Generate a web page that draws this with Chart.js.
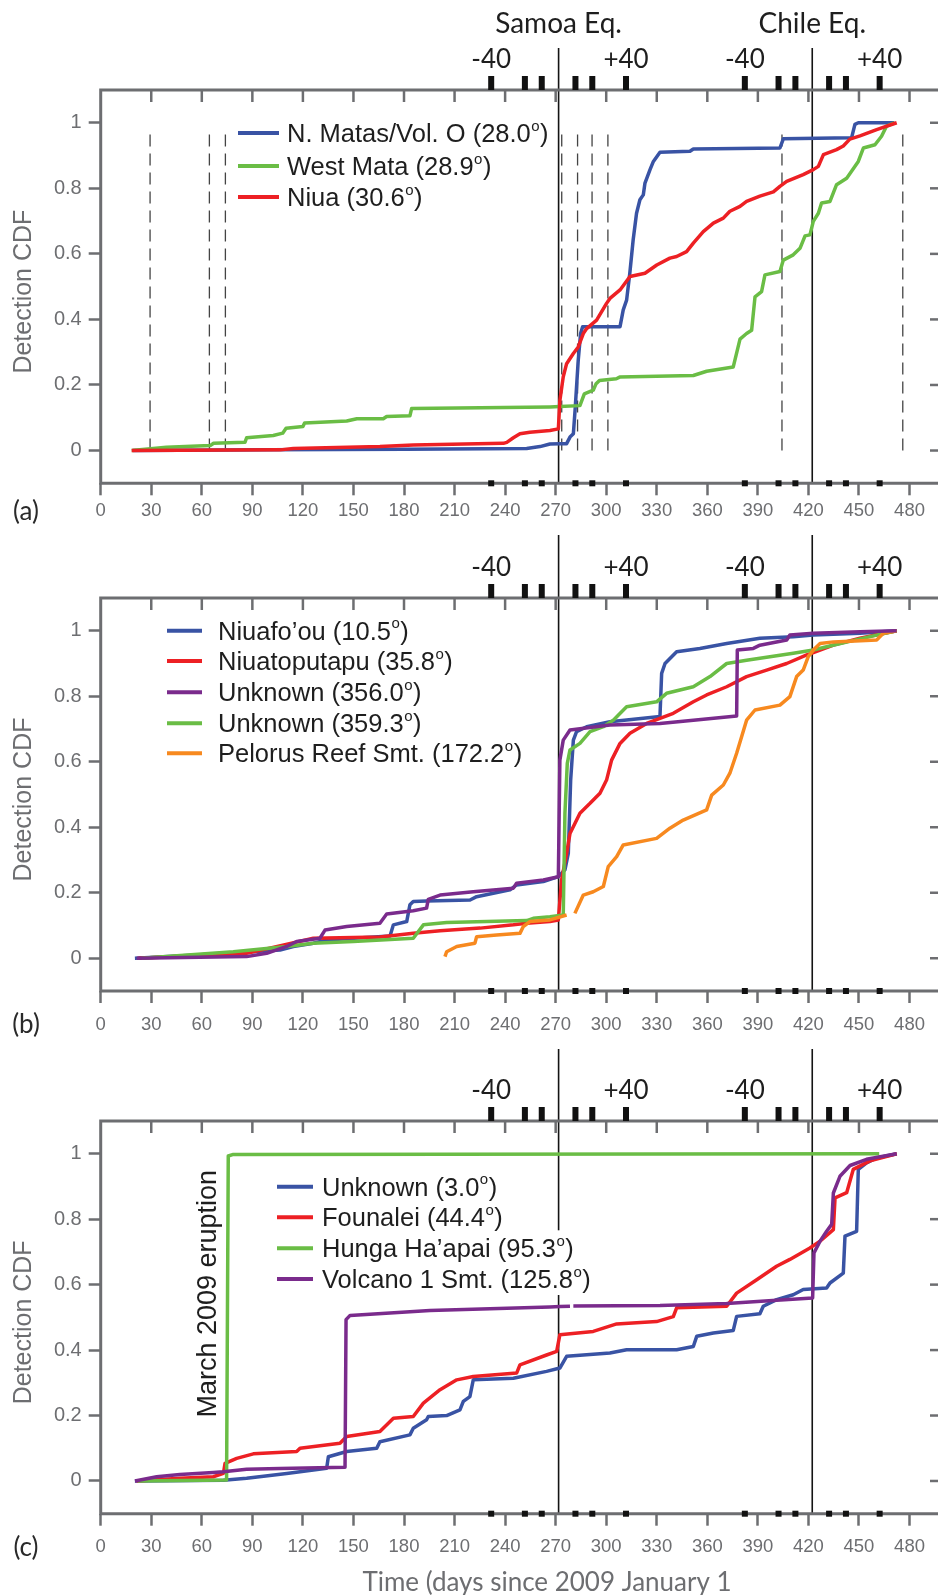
<!DOCTYPE html>
<html>
<head>
<meta charset="utf-8">
<title>Detection CDF by source, 2009–2010</title>
<script src="https://cdn.jsdelivr.net/npm/chart.js"></script>
<style>
  html, body { margin: 0; padding: 0; background: #ffffff; }
  body { width: 938px; height: 1595px; position: relative; overflow: hidden; }
  canvas { position: absolute; left: 0; }
</style>
</head>
<body>
<canvas id="panelA" width="938" height="530" style="top:0px"></canvas>
<canvas id="panelB" width="938" height="520" style="top:530px"></canvas>
<canvas id="panelC" width="938" height="555" style="top:1040px"></canvas>
<script>
// ---- axes ----
const xTickValues = [0, 30, 60, 90, 120, 150, 180, 210, 240, 270, 300, 330, 360, 390, 420, 450, 480];
const yTickValues = [0, 0.2, 0.4, 0.6, 0.8, 1];
const yTickLabels = ['0', '0.2', '0.4', '0.6', '0.8', '1'];

// ---- earthquakes (days since 2009 Jan 1) and window marks around them ----
const quakeNames = ['Samoa Eq.', 'Chile Eq.'];
const quakeDays = [271.74, 422.27];
const windowOffsets = [-40, -20, -10, 10, 20, 40];
const windowLabelOffsets = [-40, 40];
const windowLabels = ['-40', '+40'];

// ---- reference days marked with dashed lines in panel (a) ----
const dashDaysA = [29.3, 64.5, 74, 273.6, 283, 291.6, 301, 404.3, 476];

// ---- panel (a) ----
const aBlueDays = [19.3, 100, 180, 252.8, 260.7, 266.6, 272.5, 276.5, 278.5, 280.5, 281.5, 283.4, 284.8, 286, 308.2, 310.1, 312.1, 314, 316, 318, 320, 322, 323, 326, 328, 331.9, 349.7, 351.7, 403.1, 405.1, 445.6, 447.6, 449.6, 471];
const aBlueCdf = [0, 0.002, 0.004, 0.006, 0.012, 0.02, 0.021, 0.021, 0.041, 0.051, 0.122, 0.276, 0.357, 0.378, 0.378, 0.429, 0.459, 0.541, 0.643, 0.724, 0.765, 0.78, 0.816, 0.857, 0.882, 0.91, 0.913, 0.92, 0.923, 0.951, 0.954, 0.995, 1.0, 1.0];

const aGreenDays = [18.4, 39, 65, 67, 85.6, 86.6, 102.4, 108, 110, 120, 121, 146, 152, 167.7, 169.7, 183.5, 184.5, 266.6, 272.5, 284.4, 287, 292.3, 294, 296, 306, 308, 351.7, 359.6, 375.4, 379.4, 383.3, 386.3, 388.3, 392.2, 394.2, 403.1, 405.1, 411, 415, 418, 420.9, 422.9, 425.9, 427.8, 432.8, 436.7, 442.7, 445.6, 449.6, 452.6, 459.5, 463.4, 466.4, 471];
const aGreenCdf = [0, 0.01, 0.015, 0.022, 0.025, 0.039, 0.046, 0.053, 0.068, 0.073, 0.084, 0.09, 0.097, 0.097, 0.104, 0.106, 0.128, 0.133, 0.134, 0.137, 0.173, 0.184, 0.204, 0.214, 0.219, 0.224, 0.229, 0.242, 0.255, 0.34, 0.357, 0.367, 0.469, 0.485, 0.536, 0.546, 0.581, 0.597, 0.617, 0.655, 0.658, 0.699, 0.724, 0.755, 0.76, 0.811, 0.831, 0.852, 0.882, 0.923, 0.933, 0.959, 0.99, 1.0];

const aRedDays = [18.4, 106.4, 114.3, 165.7, 185.5, 239, 241, 244.9, 248.8, 254.7, 266.6, 271.6, 272.5, 274.5, 276.5, 280.5, 283.4, 286.4, 288.4, 294.3, 300.2, 302.2, 308.2, 314.1, 323, 330, 337.8, 341.8, 347.7, 351.7, 357.6, 363.6, 369.5, 373.4, 379.4, 383.3, 391.2, 399.2, 403.1, 407.1, 416.9, 422.9, 425.9, 428.9, 436.7, 440.7, 444.6, 450.6, 460.5, 472.4];
const aRedCdf = [0, 0.002, 0.006, 0.012, 0.017, 0.022, 0.025, 0.039, 0.051, 0.056, 0.061, 0.066, 0.153, 0.225, 0.265, 0.296, 0.316, 0.357, 0.372, 0.398, 0.449, 0.464, 0.49, 0.531, 0.541, 0.566, 0.587, 0.592, 0.607, 0.633, 0.668, 0.694, 0.709, 0.73, 0.745, 0.76, 0.776, 0.789, 0.806, 0.821, 0.842, 0.857, 0.867, 0.903, 0.918, 0.929, 0.95, 0.96, 0.979, 1.0];

const aNames = ['N. Matas/Vol. O', 'West Mata', 'Niua'];
const aAngles = ['28.0', '28.9', '30.6'];

// ---- panel (b) ----
const bBlueDays = [20.3, 57, 106.4, 114.3, 126.2, 134.1, 171.7, 173.7, 181.6, 183.5, 185.5, 193.4, 219.2, 223.1, 242.9, 246.8, 262.7, 271.6, 275.5, 277.5, 278.9, 280.5, 282.4, 288.4, 302.2, 331.9, 332.9, 334.9, 341.8, 355.6, 371.5, 391.2, 411, 422.9, 450.6, 472.4];
const bBlueCdf = [0, 0.01, 0.025, 0.036, 0.046, 0.056, 0.068, 0.102, 0.112, 0.163, 0.173, 0.175, 0.178, 0.188, 0.209, 0.224, 0.234, 0.249, 0.27, 0.32, 0.544, 0.666, 0.692, 0.707, 0.722, 0.738, 0.87, 0.9, 0.936, 0.946, 0.961, 0.977, 0.982, 0.987, 0.992, 1.0];

const bRedDays = [22.3, 86.6, 126.2, 165.7, 185.5, 201.4, 225.2, 244.9, 252.8, 266.6, 271.6, 273.5, 276.5, 278.5, 284.4, 290.4, 296.3, 300.2, 303.2, 308.2, 314.1, 324, 339.8, 351.7, 359.6, 371.5, 383.3, 395.2, 407.1, 419, 426.9, 434.8, 450.6, 472.4];
const bRedCdf = [0, 0.015, 0.061, 0.065, 0.076, 0.084, 0.092, 0.102, 0.107, 0.112, 0.117, 0.239, 0.32, 0.381, 0.443, 0.473, 0.504, 0.544, 0.605, 0.656, 0.687, 0.717, 0.748, 0.783, 0.804, 0.829, 0.86, 0.88, 0.9, 0.926, 0.941, 0.956, 0.977, 1.0];

const bPurpleDays = [21.3, 86.6, 98.5, 110.4, 116.3, 130.1, 133.1, 146, 165.7, 169.7, 185.5, 193.4, 194.4, 201.4, 221.1, 244.9, 246.8, 262.7, 271.6, 272.5, 274.5, 278.5, 302.2, 331.9, 351.7, 377.4, 377.8, 387.3, 391.2, 407.1, 409, 422.9, 450.6, 472.4];
const bPurpleCdf = [0, 0.005, 0.015, 0.036, 0.051, 0.061, 0.086, 0.097, 0.107, 0.135, 0.145, 0.153, 0.18, 0.193, 0.203, 0.214, 0.229, 0.239, 0.249, 0.605, 0.666, 0.697, 0.712, 0.717, 0.727, 0.74, 0.941, 0.946, 0.956, 0.972, 0.987, 0.992, 0.997, 1.0];

const bGreenDays = [24.3, 78.7, 110.4, 126.2, 149.9, 185.5, 191.5, 205.3, 252.8, 256.7, 266.6, 274.5, 275.5, 276.9, 278.5, 284.4, 290.4, 298.3, 304.2, 312.1, 329.9, 335.8, 351.7, 361.6, 371.5, 383.3, 411, 422.9, 430.8, 456.5, 472.4];
const bGreenCdf = [0, 0.02, 0.036, 0.046, 0.051, 0.061, 0.102, 0.109, 0.115, 0.122, 0.127, 0.132, 0.443, 0.595, 0.636, 0.656, 0.692, 0.707, 0.727, 0.768, 0.783, 0.809, 0.829, 0.86, 0.9, 0.91, 0.931, 0.941, 0.951, 0.982, 1.0];

// the null leaves the short break in the record just after the Samoa event
const bOrangeDays = [204.3, 205.3, 211.3, 222.1, 223.1, 235, 248.8, 250.8, 254.7, 266.6, 276.5, 279, 281.4, 286.4, 292.3, 298.3, 301.2, 306.2, 310.1, 329.9, 337.8, 345.7, 359.6, 362.6, 369.5, 373.4, 377.4, 380.4, 383.3, 388.3, 403.1, 409, 413, 416.9, 419.9, 422.9, 426.9, 434.8, 460.5, 464.4, 472.4];
const bOrangeCdf = [0.005, 0.02, 0.036, 0.046, 0.066, 0.071, 0.076, 0.097, 0.112, 0.117, 0.132, null, 0.137, 0.193, 0.203, 0.219, 0.28, 0.31, 0.346, 0.366, 0.397, 0.422, 0.453, 0.498, 0.529, 0.565, 0.626, 0.677, 0.727, 0.758, 0.773, 0.799, 0.86, 0.88, 0.921, 0.941, 0.961, 0.966, 0.972, 0.992, 1.0];

const bNames = ['Niuafo\u2019ou', 'Niuatoputapu', 'Unknown', 'Unknown', 'Pelorus Reef Smt.'];
const bAngles = ['10.5', '35.8', '356.0', '359.3', '172.2'];

// ---- panel (c) ----
const cBlueDays = [20.3, 72.8, 86.6, 110.4, 134.1, 135.1, 146, 163.8, 165.7, 183.5, 185.5, 193.4, 194.4, 205.3, 213.2, 215.2, 219.1, 221.1, 244.9, 264.6, 272.5, 276.5, 302.2, 312.1, 341.8, 351.7, 353.7, 363.6, 375.4, 377.4, 391.2, 393.2, 401.1, 411, 416.9, 430.8, 432.8, 440.7, 441.7, 448.6, 449.6, 454.5, 460.5, 472.4];
const cBlueCdf = [0, 0.002, 0.008, 0.023, 0.039, 0.074, 0.09, 0.1, 0.12, 0.141, 0.161, 0.187, 0.197, 0.2, 0.217, 0.243, 0.258, 0.309, 0.314, 0.335, 0.345, 0.381, 0.391, 0.401, 0.401, 0.411, 0.442, 0.452, 0.46, 0.503, 0.511, 0.534, 0.554, 0.569, 0.585, 0.59, 0.605, 0.635, 0.748, 0.763, 0.952, 0.972, 0.987, 1.0];

const cRedDays = [21.3, 47, 66.8, 72.8, 73.8, 80.7, 90.6, 116.3, 118.3, 142, 146, 165.7, 173.7, 185.5, 191.5, 201.4, 211.3, 221.1, 246.9, 248.8, 264.6, 270.6, 272.5, 292.3, 306.2, 329.9, 339.8, 341.8, 371.5, 377.4, 389.3, 401.1, 409, 420.9, 426.9, 434.8, 435.8, 442.7, 446.6, 456.5, 472.4];
const cRedCdf = [0, 0.008, 0.013, 0.023, 0.054, 0.069, 0.083, 0.09, 0.1, 0.115, 0.136, 0.151, 0.192, 0.197, 0.238, 0.279, 0.309, 0.319, 0.33, 0.355, 0.385, 0.396, 0.447, 0.457, 0.48, 0.487, 0.502, 0.529, 0.534, 0.574, 0.615, 0.656, 0.677, 0.712, 0.733, 0.768, 0.865, 0.881, 0.952, 0.978, 1.0];

const cGreenDays = [22, 74.7, 75.7, 78.7, 462];
const cGreenCdf = [0, 0.003, 0.993, 0.998, 1.0];

const cPurpleDays = [20.3, 33.2, 47, 66.8, 72.8, 86.6, 106.4, 145, 145.6, 148, 195.4, 266.6, 272.5, 278.5, 279.5, 280.5, 331.9, 371.5, 401.1, 422.5, 423.3, 426.9, 430.8, 433.8, 434.8, 438.7, 444.7, 454.5, 472.4];
const cPurpleCdf = [0, 0.013, 0.02, 0.026, 0.028, 0.036, 0.038, 0.042, 0.493, 0.506, 0.521, 0.532, 0.533, 0.534, null, 0.535, 0.536, 0.542, 0.552, 0.559, 0.697, 0.733, 0.763, 0.784, 0.88, 0.931, 0.964, 0.983, 1.0];

const cNames = ['Unknown', 'Founalei', 'Hunga Ha\u2019apai', 'Volcano 1 Smt.'];
const cAngles = ['3.0', '44.4', '95.3', '125.8'];

// ---- styling ----
const COLORS = { blue: '#3953a4', green: '#6abd45', red: '#ed2024', purple: '#7a2b8c', orange: '#f7891f' };
const GRAY = '#6d6e71';
const INK = '#1e1e1e';
const SANS = '"Liberation Sans", Arial, sans-serif';
const HUMANIST = 'Lato, "Open Sans", sans-serif';
const X_MAX = 496.9;
const Y_AXIS_WIDTH = 100.7;

function series(days, cdf, color, order) {
  return {
    data: days.map((d, i) => ({ x: d, y: cdf[i] })),
    borderColor: color,
    backgroundColor: color,
    borderWidth: 3.5,
    pointRadius: 0,
    tension: 0,
    fill: false,
    spanGaps: false,
    borderJoinStyle: 'round',
    order: order
  };
}

// per-panel layout and annotation settings, keyed by canvas id
const panelSpecs = {
  panelA: {
    letter: '(a)', padTop: 90, xAxisHeight: 46.7, tickPad: 5, quakeRise: 42, quakeNames: true,
    dashDays: dashDaysA, dashTop: 0.975,
    legend: { names: aNames, angles: aAngles, order: [0, 1, 2], lineX: 238, lineLen: 41, textX: 287, rows: [43, 76, 107], clear: false }
  },
  panelB: {
    letter: '(b)', padTop: 68, xAxisHeight: 59, tickPad: 10.5, quakeRise: 63,
    legend: { names: bNames, angles: bAngles, order: [0, 1, 2, 3, 4], lineX: 167, lineLen: 35, textX: 218, rows: [32.7, 63, 94.3, 125.3, 155.3], clear: false }
  },
  panelC: {
    letter: '(c)', padTop: 81, xAxisHeight: 81.3, tickPad: 10.5, quakeRise: 72,
    xTitle: 'Time (days since 2009 January 1',
    note: { text: 'March 2009 eruption', day: 63.8, value: 0.572 },
    legend: { names: cNames, angles: cAngles, order: [0, 1, 2, 3], lineX: 277, lineLen: 36, textX: 322, rows: [65.7, 96.3, 127.3, 158], clear: true }
  }
};

const LEGEND_FONT = '25.5px ' + SANS;
const SUP_FONT = '15px ' + SANS;

function line(ctx, x1, y1, x2, y2) {
  ctx.beginPath(); ctx.moveTo(x1, y1); ctx.lineTo(x2, y2); ctx.stroke();
}

// measures one legend entry: "Name (12.3" + superscript o + ")"
function legendParts(ctx, name, angle) {
  const main = name + ' (' + angle;
  ctx.font = LEGEND_FONT;
  const w1 = ctx.measureText(main).width;
  const w3 = ctx.measureText(')').width;
  ctx.font = SUP_FONT;
  const w2 = ctx.measureText('o').width;
  return { main, w1, w2, w3 };
}

const panelDecor = {
  id: 'panelDecor',
  beforeDatasetsDraw(chart) {
    const spec = panelSpecs[chart.canvas.id];
    const { ctx, chartArea: a, scales: { x, y } } = chart;
    ctx.save();
    if (spec.dashDays) {
      ctx.strokeStyle = '#444444';
      ctx.lineWidth = 1.3;
      ctx.setLineDash([12, 7]);
      spec.dashDays.forEach(d => {
        const px = x.getPixelForValue(d);
        line(ctx, px, y.getPixelForValue(0), px, y.getPixelForValue(spec.dashTop));
      });
      ctx.setLineDash([]);
    }
    ctx.strokeStyle = '#141414';
    ctx.lineWidth = 1.6;
    quakeDays.forEach(q => {
      const px = x.getPixelForValue(q);
      line(ctx, px, a.top - spec.quakeRise, px, a.bottom);
    });
    ctx.restore();
  },
  afterDatasetsDraw(chart) {
    const spec = panelSpecs[chart.canvas.id];
    const { ctx, chartArea: a, scales: { x, y } } = chart;
    ctx.save();

    // frame: left, top and bottom edges
    ctx.strokeStyle = GRAY;
    ctx.lineWidth = 3;
    ctx.beginPath();
    ctx.moveTo(a.right, a.top); ctx.lineTo(a.left, a.top);
    ctx.lineTo(a.left, a.bottom); ctx.lineTo(a.right, a.bottom);
    ctx.stroke();

    // inward ticks along the top edge, short ticks on the right
    ctx.lineWidth = 2.5;
    xTickValues.forEach(v => {
      if (v === 0) return;
      const px = x.getPixelForValue(v);
      line(ctx, px, a.top, px, a.top + 12);
    });
    yTickValues.forEach(v => {
      const py = y.getPixelForValue(v);
      line(ctx, a.right - 8, py, a.right, py);
    });

    // window marks around each earthquake
    ctx.fillStyle = '#111111';
    quakeDays.forEach(q => {
      windowOffsets.forEach(off => {
        const px = x.getPixelForValue(q + off);
        ctx.fillRect(px - 3, a.top - 14, 6, 14);
        ctx.fillRect(px - 3, a.bottom - 3, 6, 6);
      });
    });
    ctx.fillStyle = INK;
    ctx.textAlign = 'center';
    ctx.textBaseline = 'alphabetic';
    ctx.font = '26px ' + HUMANIST;
    quakeDays.forEach(q => {
      windowLabelOffsets.forEach((off, i) => {
        ctx.fillText(windowLabels[i], x.getPixelForValue(q + off), a.top - 22);
      });
    });
    if (spec.quakeNames) {
      ctx.font = '28px ' + HUMANIST;
      quakeDays.forEach((q, i) => ctx.fillText(quakeNames[i], x.getPixelForValue(q), a.top - 57));
    }

    // legend: white backing first (where needed), then keys and text
    const L = spec.legend;
    if (L.clear) {
      ctx.fillStyle = '#ffffff';
      L.order.forEach((dsIndex, row) => {
        const p = legendParts(ctx, L.names[row], L.angles[row]);
        const yy = a.top + L.rows[row];
        ctx.fillRect(L.textX - 2, yy - 18, p.w1 + p.w2 + p.w3 + 6, 34);
      });
    }
    L.order.forEach((dsIndex, row) => {
      const ds = chart.data.datasets[dsIndex];
      const yy = a.top + L.rows[row];
      const p = legendParts(ctx, L.names[row], L.angles[row]);
      ctx.strokeStyle = ds.borderColor;
      ctx.lineWidth = 4;
      line(ctx, L.lineX, yy, L.lineX + L.lineLen, yy);
      ctx.fillStyle = INK;
      ctx.textAlign = 'left';
      ctx.textBaseline = 'alphabetic';
      ctx.font = LEGEND_FONT;
      ctx.fillText(p.main, L.textX, yy + 9);
      ctx.font = SUP_FONT;
      ctx.fillText('o', L.textX + p.w1 + 0.5, yy - 2.5);
      ctx.font = LEGEND_FONT;
      ctx.fillText(')', L.textX + p.w1 + p.w2 + 1, yy + 9);
    });

    // y-axis title
    ctx.save();
    ctx.translate(24, (a.top + a.bottom) / 2 + 5);
    ctx.rotate(-Math.PI / 2);
    ctx.font = '25px ' + SANS;
    ctx.fillStyle = GRAY;
    ctx.textAlign = 'center';
    ctx.textBaseline = 'middle';
    ctx.fillText('Detection CDF', 0, 0);
    ctx.restore();

    // panel letter
    ctx.font = '26px ' + HUMANIST;
    ctx.fillStyle = '#2a2a2a';
    ctx.textAlign = 'center';
    ctx.textBaseline = 'middle';
    ctx.fillText(spec.letter, 26, a.bottom + 12 + spec.tickPad + 11);

    // x-axis title
    if (spec.xTitle) {
      ctx.font = '26px ' + HUMANIST;
      ctx.fillStyle = GRAY;
      ctx.fillText(spec.xTitle, 547, a.bottom + 69);
    }

    // vertical note beside the eruption step
    if (spec.note) {
      ctx.save();
      ctx.translate(x.getPixelForValue(spec.note.day), y.getPixelForValue(spec.note.value));
      ctx.rotate(-Math.PI / 2);
      ctx.font = '27px ' + SANS;
      ctx.fillStyle = INK;
      ctx.textAlign = 'center';
      ctx.textBaseline = 'middle';
      ctx.fillText(spec.note.text, 0, 0);
      ctx.restore();
    }
    ctx.restore();
  }
};

function makePanel(id, datasets) {
  const spec = panelSpecs[id];
  return new Chart(document.getElementById(id), {
    type: 'line',
    data: { datasets: datasets },
    options: {
      responsive: false,
      animation: false,
      devicePixelRatio: 1,
      events: [],
      layout: { padding: { top: spec.padTop, left: 0, right: 0, bottom: 0 } },
      plugins: { legend: { display: false }, tooltip: { enabled: false }, title: { display: false } },
      scales: {
        x: {
          type: 'linear', min: 0, max: X_MAX,
          afterBuildTicks: s => { s.ticks = xTickValues.map(v => ({ value: v })); },
          afterFit: s => { s.height = spec.xAxisHeight; },
          border: { display: false },
          grid: { drawOnChartArea: false, drawTicks: true, tickLength: 12, tickWidth: 2.5, tickColor: GRAY },
          ticks: {
            autoSkip: false, maxRotation: 0, minRotation: 0, padding: spec.tickPad,
            color: GRAY, font: { family: SANS, size: 18.5 },
            callback: v => String(v)
          }
        },
        y: {
          type: 'linear', min: -0.1, max: 1.1,
          afterBuildTicks: s => { s.ticks = yTickValues.map(v => ({ value: v })); },
          afterFit: s => { s.width = Y_AXIS_WIDTH; },
          border: { display: false },
          grid: { drawOnChartArea: false, drawTicks: true, tickLength: 12, tickWidth: 2.5, tickColor: GRAY },
          ticks: {
            padding: 7, color: GRAY, font: { family: SANS, size: 20 },
            callback: v => yTickLabels[yTickValues.indexOf(v)]
          }
        }
      }
    },
    plugins: [panelDecor]
  });
}

makePanel('panelA', [
  series(aBlueDays, aBlueCdf, COLORS.blue, 3),
  series(aGreenDays, aGreenCdf, COLORS.green, 2),
  series(aRedDays, aRedCdf, COLORS.red, 1)
]);

makePanel('panelB', [
  series(bBlueDays, bBlueCdf, COLORS.blue, 5),
  series(bRedDays, bRedCdf, COLORS.red, 4),
  series(bPurpleDays, bPurpleCdf, COLORS.purple, 1),
  series(bGreenDays, bGreenCdf, COLORS.green, 3),
  series(bOrangeDays, bOrangeCdf, COLORS.orange, 2)
]);

makePanel('panelC', [
  series(cBlueDays, cBlueCdf, COLORS.blue, 4),
  series(cRedDays, cRedCdf, COLORS.red, 3),
  series(cGreenDays, cGreenCdf, COLORS.green, 2),
  series(cPurpleDays, cPurpleCdf, COLORS.purple, 1)
]);
</script>
</body>
</html>
